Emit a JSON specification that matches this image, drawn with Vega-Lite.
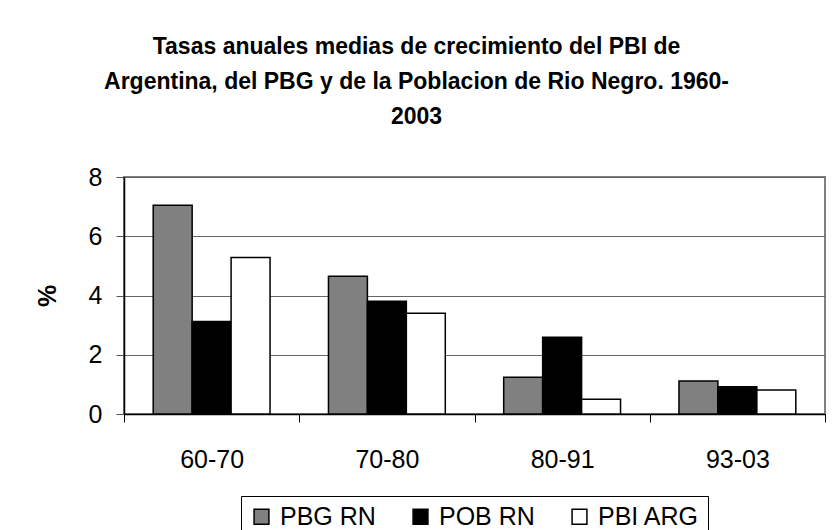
{
  "$schema": "https://vega.github.io/schema/vega-lite/v6.json",
  "autosize": {"type": "none"},
  "width": 701,
  "height": 237,
  "padding": {"left": 124, "top": 177, "right": 7, "bottom": 116},
  "background": "white",
  "config": {
    "font": "Liberation Sans",
    "view": {"stroke": "#808080", "strokeWidth": 2}
  },
  "title": {
    "text": ["Tasas anuales medias de crecimiento del PBI de", "Argentina, del PBG y de la Poblacion de Rio Negro. 1960-", "2003"],
    "fontSize": 23,
    "fontWeight": "bold",
    "font": "Liberation Sans",
    "color": "black",
    "anchor": "middle",
    "frame": "group",
    "dx": -58,
    "lineHeight": 35,
    "offset": 36
  },
  "data": {
    "values": [
      {"periodo": "60-70", "serie": "PBG RN", "valor": 7.05},
      {"periodo": "60-70", "serie": "POB RN", "valor": 3.12},
      {"periodo": "60-70", "serie": "PBI ARG", "valor": 5.28},
      {"periodo": "70-80", "serie": "PBG RN", "valor": 4.65},
      {"periodo": "70-80", "serie": "POB RN", "valor": 3.81},
      {"periodo": "70-80", "serie": "PBI ARG", "valor": 3.4},
      {"periodo": "80-91", "serie": "PBG RN", "valor": 1.24},
      {"periodo": "80-91", "serie": "POB RN", "valor": 2.59},
      {"periodo": "80-91", "serie": "PBI ARG", "valor": 0.5},
      {"periodo": "93-03", "serie": "PBG RN", "valor": 1.11},
      {"periodo": "93-03", "serie": "POB RN", "valor": 0.92},
      {"periodo": "93-03", "serie": "PBI ARG", "valor": 0.81}
    ]
  },
  "mark": {"type": "bar", "stroke": "black", "strokeWidth": 1.5},
  "encoding": {
    "x": {
      "field": "periodo",
      "type": "nominal",
      "sort": ["60-70", "70-80", "80-91", "93-03"],
      "scale": {"paddingInner": 0, "paddingOuter": 0},
      "axis": {
        "title": null,
        "labelAngle": 0,
        "labelFontSize": 25,
        "labelColor": "black",
        "labelPadding": 25,
        "tickBand": "extent",
        "tickColor": "black",
        "tickSize": 8,
        "domainColor": "black",
        "domainWidth": 1.5,
        "grid": false
      }
    },
    "xOffset": {
      "field": "serie",
      "type": "nominal",
      "sort": ["PBG RN", "POB RN", "PBI ARG"],
      "scale": {"paddingOuter": 0.75, "paddingInner": 0}
    },
    "y": {
      "field": "valor",
      "type": "quantitative",
      "scale": {"domain": [0, 8], "nice": false},
      "axis": {
        "title": "%",
        "titleFontSize": 25,
        "titleFontWeight": "bold",
        "titleColor": "black",
        "titlePadding": 28,
        "values": [0, 2, 4, 6, 8],
        "labelFontSize": 25,
        "labelColor": "black",
        "labelPadding": 14,
        "tickColor": "#555555",
        "tickSize": 8,
        "domainColor": "black",
        "domainWidth": 1.5,
        "gridColor": "#666666",
        "gridWidth": 1
      }
    },
    "fill": {
      "field": "serie",
      "type": "nominal",
      "sort": ["PBG RN", "POB RN", "PBI ARG"],
      "scale": {"domain": ["PBG RN", "POB RN", "PBI ARG"], "range": ["#808080", "#000000", "#ffffff"]},
      "legend": {
        "title": null,
        "orient": "none",
        "legendX": 117,
        "legendY": 319,
        "direction": "horizontal",
        "strokeColor": "black",
        "fillColor": "white",
        "padding": 8,
        "symbolType": "square",
        "symbolSize": 220,
        "symbolStrokeColor": "black",
        "symbolStrokeWidth": 1.5,
        "labelFontSize": 25,
        "labelColor": "black",
        "columnPadding": 32,
        "labelOffset": 6
      }
    }
  }
}
